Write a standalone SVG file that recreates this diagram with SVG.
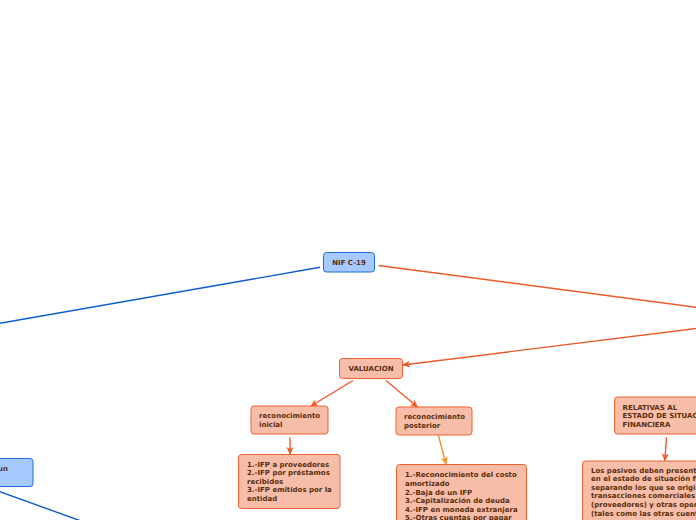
<svg xmlns="http://www.w3.org/2000/svg" width="696" height="520" viewBox="0 0 696 520">
<defs>
<style>
.t{font-family:"DejaVu Sans","Verdana","Liberation Sans",sans-serif;font-weight:bold;font-size:7px;fill:#5a2d0c}
.bn{fill:#a6c9ff;stroke:#1c6fd9;stroke-width:1}
.on{fill:#f8bda8;stroke:#f0622e;stroke-width:1}
.bl{stroke:#0a5bd3;stroke-width:1.4;fill:none}
.ol{stroke:#f0592a;stroke-width:1.4;fill:none}
.yl{stroke:#f7902a;stroke-width:1.4;fill:none}
</style>
<marker id="ao" markerWidth="8" markerHeight="8" refX="7" refY="4" orient="auto" markerUnits="userSpaceOnUse">
<path d="M0,0.5 L8,4 L0,7.5 L2,4 z" fill="#f0592a"/>
</marker>
<marker id="ay" markerWidth="8" markerHeight="8" refX="7" refY="4" orient="auto" markerUnits="userSpaceOnUse">
<path d="M0,0.5 L8,4 L0,7.5 L2,4 z" fill="#f7902a"/>
</marker>
</defs>
<rect width="696" height="520" fill="#ffffff"/>
<g id="connectors">
<line class="bl" x1="320" y1="267.3" x2="-5" y2="324.2"/>
<line class="bl" x1="-5" y1="490" x2="95" y2="526"/>
<line class="ol" x1="378.5" y1="265.5" x2="700" y2="307.8"/>
<line class="ol" x1="700" y1="328" x2="403" y2="365" marker-end="url(#ao)"/>
<line class="ol" x1="353" y1="380.5" x2="311" y2="406" marker-end="url(#ao)"/>
<line class="ol" x1="386" y1="380.5" x2="417.5" y2="407" marker-end="url(#ao)"/>
<line class="ol" x1="290" y1="437.5" x2="290" y2="454" marker-end="url(#ao)"/>
<line class="yl" x1="438.5" y1="435.5" x2="446" y2="464" marker-end="url(#ay)"/>
<line class="ol" x1="666.5" y1="437.5" x2="664.8" y2="460.5" marker-end="url(#ao)"/>
</g>
<g id="nif">
<rect class="bn" x="323.5" y="252.5" width="51" height="19.5" rx="3"/>
<text class="t" x="349" y="265" text-anchor="middle">NIF C-19</text>
</g>
<g id="left-node">
<rect class="bn" x="-60" y="458.5" width="93" height="28" rx="3"/>
<text class="t" x="8" y="471" text-anchor="end">un</text>
</g>
<g id="valuacion">
<rect class="on" x="339.5" y="358.5" width="63" height="20" rx="3"/>
<text class="t" x="371" y="371" text-anchor="middle">VALUACION</text>
</g>
<g id="rec-inicial">
<rect class="on" x="251" y="406" width="77" height="28" rx="3"/>
<text class="t" x="259" y="418">reconocimiento</text>
<text class="t" x="259" y="427">inicial</text>
</g>
<g id="rec-posterior">
<rect class="on" x="396" y="407" width="76" height="28" rx="3"/>
<text class="t" x="404" y="419">reconocimiento</text>
<text class="t" x="404" y="428">posterior</text>
</g>
<g id="lista-inicial">
<rect class="on" x="238.5" y="454.5" width="101.5" height="54" rx="3"/>
<text class="t" x="247" y="466.5">1.-IFP a proveedores</text>
<text class="t" x="247" y="475.1">2.-IFP por préstamos</text>
<text class="t" x="247" y="483.7">recibidos</text>
<text class="t" x="247" y="492.3">3.-IFP emitidos por la</text>
<text class="t" x="247" y="500.9">entidad</text>
</g>
<g id="lista-posterior">
<rect class="on" x="396.5" y="464.5" width="130" height="70" rx="3"/>
<text class="t" x="405" y="477.3">1.-Reconocimiento del costo</text>
<text class="t" x="405" y="485.9">amortizado</text>
<text class="t" x="405" y="494.5">2.-Baja de un IFP</text>
<text class="t" x="405" y="503.1">3.-Capitalización de deuda</text>
<text class="t" x="405" y="511.7">4.-IFP en moneda extranjera</text>
<text class="t" x="405" y="520.3">5.-Otras cuentas por pagar</text>
</g>
<g id="relativas">
<rect class="on" x="614.5" y="397" width="100" height="37" rx="3"/>
<text class="t" x="622.5" y="409.5">RELATIVAS AL</text>
<text class="t" x="622.5" y="418">ESTADO DE SITUACION</text>
<text class="t" x="622.5" y="426.5">FINANCIERA</text>
</g>
<g id="pasivos">
<rect class="on" x="582.5" y="461" width="130" height="70" rx="3"/>
<text class="t" x="591" y="472.5">Los pasivos deben presentarse</text>
<text class="t" x="591" y="481.1">en el estado de situación financiera</text>
<text class="t" x="591" y="489.7">separando los que se originan</text>
<text class="t" x="591" y="498.3">transacciones comerciales con</text>
<text class="t" x="591" y="506.9">(proveedores) y otras operaciones</text>
<text class="t" x="591" y="515.5">(tales como las otras cuentas</text>
</g>
</svg>
